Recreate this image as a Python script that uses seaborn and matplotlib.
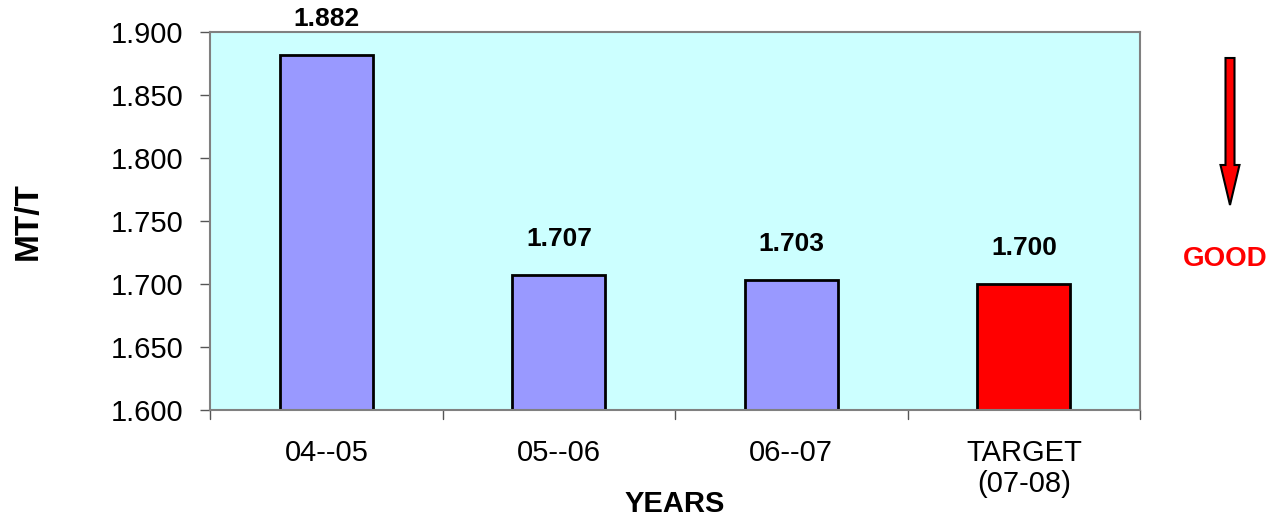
import matplotlib
matplotlib.use("Agg")
import matplotlib.pyplot as plt
from matplotlib.patches import FancyArrow
import seaborn as sns
import pandas as pd

years = ["04--05", "05--06", "06--07", "TARGET\n(07-08)"]
mt_per_t = [1.882, 1.707, 1.703, 1.700]
bar_colors = ["#9999FF", "#9999FF", "#9999FF", "#FF0000"]

sns.set_style("white")
plt.rcParams["font.family"] = ["Liberation Sans", "DejaVu Sans"]
plt.rcParams["text.color"] = "black"
plt.rcParams["axes.labelcolor"] = "black"
plt.rcParams["xtick.color"] = "black"
plt.rcParams["ytick.color"] = "black"

df = pd.DataFrame({"year": years, "value": mt_per_t})

fig = plt.figure(figsize=(12.81, 5.2), dpi=100)
ax = fig.add_axes([0.164, 0.2115, 0.726, 0.7265])

sns.barplot(data=df, x="year", y="value", hue="year", palette=bar_colors,
            saturation=1, width=0.4, edgecolor="black", linewidth=2,
            legend=False, ax=ax)

ax.set_facecolor("#CCFFFF")
ax.set_ylim(1.6, 1.9)
ax.set_xlim(-0.5, 3.5)
yt = [1.60, 1.65, 1.70, 1.75, 1.80, 1.85, 1.90]
ax.set_yticks(yt)
ax.set_yticklabels([f"{v:.3f}" for v in yt], fontsize=21)
ax.set_xticks(range(len(years)))
ax.set_xticklabels(years, fontsize=21, linespacing=1.15)
ax.tick_params(axis="x", length=0, pad=21)
ax.tick_params(axis="y", length=7, width=1, color="#555555", direction="out",
               left=True, pad=12)

# category boundary ticks on the x-axis
for b in [-0.5, 0.5, 1.5, 2.5, 3.5]:
    ax.plot([b, b], [0, -0.025], transform=ax.get_xaxis_transform(),
            color="#555555", lw=1, clip_on=False)

for s in ax.spines.values():
    s.set_visible(True)
    s.set_color("#808080")
    s.set_linewidth(1.5)

for i, v in enumerate(mt_per_t):
    ax.annotate(f"{v:.3f}", (i, v), xytext=(0, 26), textcoords="offset points",
                ha="center", va="center", fontsize=19, fontweight="bold")

ax.set_xlabel("YEARS", fontsize=21, fontweight="bold", va="center")
ax.xaxis.set_label_coords(0.5, -0.25)
ax.set_ylabel("MT/T", fontsize=24, fontweight="bold", va="center")
ax.yaxis.set_label_coords(-0.196, 0.5)

# downward arrow and note at the right
arrow = FancyArrow(1230 / 1281, 1 - 58 / 520, 0, -(205 - 58) / 520,
                   width=9 / 1281, head_width=19 / 1281, head_length=40 / 520,
                   length_includes_head=True, transform=fig.transFigure,
                   facecolor="#FF0000", edgecolor="black", linewidth=1.5)
fig.patches.append(arrow)
fig.text(1225 / 1281, 1 - 259 / 520, "GOOD", color="#FF0000", fontsize=20,
         fontweight="bold", ha="center", va="center")

fig.savefig("out.png", dpi=100)
